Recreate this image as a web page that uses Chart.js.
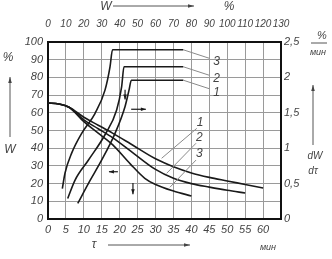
<!DOCTYPE html>
<html>
<head>
<meta charset="utf-8">
<script src="https://cdn.jsdelivr.net/npm/chart.js@4.4.1/dist/chart.umd.min.js"></script>
<style>
  html, body { margin: 0; padding: 0; background: #fff; }
  canvas { display: block; }
</style>
</head>
<body>
<canvas id="chart" width="332" height="259"></canvas>
<script>
// drying curves W(τ): τ in minutes, W in %
const dryTau1 = [0, 3, 6, 10, 14, 18, 23, 30, 35, 40, 45, 50, 55, 60];
const dryW1 = [65.5, 65, 63, 57.5, 53, 48.5, 42.5, 34, 29.5, 26, 23.5, 21.5, 19.5, 17.5];
const dryTau2 = [0, 3, 6, 10, 14, 18, 23, 30, 35, 40, 45, 50, 55];
const dryW2 = [65.5, 65, 63, 56, 51, 46, 38.5, 28, 23, 20, 18, 16.2, 14.7];
const dryTau3 = [0, 3, 6, 10, 14, 18, 23, 27, 30, 35, 40];
const dryW3 = [65.5, 65, 63, 55, 48.5, 42, 31, 23, 19.5, 15.8, 13];

// drying rate curves dW/dτ(W): W in %, rate in %/min
const rateW1 = [16.6, 22.5, 29.9, 37.4, 43, 45.2, 46.5, 75.5];
const rate1 = [0.22, 0.5, 0.83, 1.21, 1.59, 1.82, 1.96, 1.96];
const rateW2 = [11, 15.1, 22.5, 31.8, 38.3, 41.1, 42.4, 75.5];
const rate2 = [0.29, 0.55, 0.83, 1.19, 1.54, 1.87, 2.15, 2.15];
const rateW3 = [8, 9.5, 13.2, 18.8, 26.2, 31.8, 34.6, 36, 75.5];
const rate3 = [0.43, 0.65, 0.93, 1.21, 1.49, 1.82, 2.15, 2.39, 2.39];

const curveNames = ['1', '2', '3'];

// tick labels
const tauTicks = ['0', '5', '10', '15', '20', '25', '30', '35', '40', '45', '50', '55', '60'];
const wBottomTicks = ['0', '10', '20', '30', '40', '50', '60', '70', '80', '90', '100'];
const wTopTicks = ['0', '10', '20', '30', '40', '50', '60', '70', '80', '90', '100', '110', '120', '130'];
const rateTicks = ['0', '0,5', '1', '1,5', '2', '2,5'];

const FONT = '"Liberation Sans", Arial, sans-serif';
const INK = '#1a1a1a';
const TXT = '#444';

const pts = (xs, ys) => xs.map((x, i) => ({ x: x, y: ys[i] }));

const line = (data, xAxisID, yAxisID) => ({
    data: data,
    xAxisID: xAxisID,
    yAxisID: yAxisID,
    borderColor: INK,
    borderWidth: 1.6,
    pointRadius: 0,
    fill: false,
    cubicInterpolationMode: 'monotone',
});

function arrow(ctx, x1, y1, x2, y2, head) {
    const a = Math.atan2(y2 - y1, x2 - x1);
    ctx.beginPath();
    ctx.moveTo(x1, y1);
    ctx.lineTo(x2, y2);
    ctx.stroke();
    ctx.beginPath();
    ctx.moveTo(x2, y2);
    ctx.lineTo(x2 - head * Math.cos(a) + 1.8 * Math.sin(a), y2 - head * Math.sin(a) - 1.8 * Math.cos(a));
    ctx.lineTo(x2 - head * Math.cos(a) - 1.8 * Math.sin(a), y2 - head * Math.sin(a) + 1.8 * Math.cos(a));
    ctx.closePath();
    ctx.fill();
}

function text(ctx, s, x, y, size) {
    ctx.font = 'italic ' + (size || 12) + 'px ' + FONT;
    ctx.fillText(s, x, y);
}

const extras = {
    id: 'extras',
    afterDatasetsDraw(chart) {
        const { ctx, scales } = chart;
        const { x, y, x2, y2 } = scales;
        ctx.save();

        // leader lines and numbers for rate curves
        ctx.strokeStyle = '#8a8a8a';
        ctx.lineWidth = 1;
        ctx.fillStyle = TXT;
        ctx.textAlign = 'center';
        ctx.textBaseline = 'middle';
        const flats = [rate1[rate1.length - 1], rate2[rate2.length - 1], rate3[rate3.length - 1]];
        flats.forEach((r, i) => {
            const wEnd = [rateW1, rateW2, rateW3][i].slice(-1)[0];
            ctx.beginPath();
            ctx.moveTo(x2.getPixelForValue(wEnd), y2.getPixelForValue(r));
            ctx.lineTo(x2.getPixelForValue(90), y2.getPixelForValue(r - 0.12));
            ctx.stroke();
            text(ctx, curveNames[i], x2.getPixelForValue(94), y2.getPixelForValue(r - 0.17));
        });

        // leader lines and numbers for drying curves
        const leaders = [
            [31.7, 34.3, 41.5, 51.2],
            [33.1, 25.8, 41.3, 42.8],
            [34, 17.9, 41.3, 33.3],
        ];
        leaders.forEach((l, i) => {
            ctx.beginPath();
            ctx.moveTo(x.getPixelForValue(l[0]), y.getPixelForValue(l[1]));
            ctx.lineTo(x.getPixelForValue(l[2]), y.getPixelForValue(l[3]));
            ctx.stroke();
            text(ctx, curveNames[i], x.getPixelForValue(l[2] + 0.9), y.getPixelForValue(l[3] + 3.4));
        });

        // small direction arrows inside the plot
        ctx.strokeStyle = INK;
        ctx.fillStyle = INK;
        ctx.lineWidth = 1.2;
        arrow(ctx, x.getPixelForValue(21.5), y.getPixelForValue(73), x.getPixelForValue(21.5), y.getPixelForValue(67.5), 5);
        arrow(ctx, x.getPixelForValue(23.2), y.getPixelForValue(62), x.getPixelForValue(27.3), y.getPixelForValue(62), 5);
        arrow(ctx, x.getPixelForValue(19.5), y.getPixelForValue(26.7), x.getPixelForValue(17), y.getPixelForValue(26.7), 5);
        arrow(ctx, x.getPixelForValue(23.7), y.getPixelForValue(20.3), x.getPixelForValue(23.7), y.getPixelForValue(14), 5);

        // axis titles around the frame
        ctx.fillStyle = TXT;
        ctx.strokeStyle = '#555';
        ctx.lineWidth = 1;
        text(ctx, 'W', 106, 7);
        arrow(ctx, 113, 6, 194, 6, 6);
        text(ctx, '%', 229, 7);

        text(ctx, '%', 8, 58);
        arrow(ctx, 10, 137, 10, 77, 6);
        text(ctx, 'W', 10, 150);

        text(ctx, '%', 322, 36, 11);
        ctx.beginPath();
        ctx.moveTo(311, 43);
        ctx.lineTo(327, 43);
        ctx.stroke();
        text(ctx, 'мин', 318, 52, 9);
        arrow(ctx, 313, 145, 313, 85, 6);
        text(ctx, 'dW', 315, 156, 10);
        text(ctx, 'dτ', 313, 171, 10);

        text(ctx, 'τ', 94, 245);
        arrow(ctx, 108, 245, 190, 245, 6);
        text(ctx, 'мин', 268, 247, 9);

        ctx.restore();
    },
};

const tickFont = { family: FONT, size: 11, style: 'italic' };
const topFont = { family: FONT, size: 10, style: 'italic' };
const frame = { display: true, color: '#111', width: 2 };

new Chart(document.getElementById('chart'), {
    type: 'line',
    data: {
        datasets: [
            line(pts(dryTau1, dryW1), 'x', 'y'),
            line(pts(dryTau2, dryW2), 'x', 'y'),
            line(pts(dryTau3, dryW3), 'x', 'y'),
            line(pts(rateW1, rate1), 'x2', 'y2'),
            line(pts(rateW2, rate2), 'x2', 'y2'),
            line(pts(rateW3, rate3), 'x2', 'y2'),
        ],
    },
    options: {
        responsive: false,
        animation: false,
        devicePixelRatio: 1,
        layout: { padding: 0 },
        plugins: { legend: { display: false }, tooltip: { enabled: false } },
        scales: {
            x: {
                type: 'linear',
                position: 'bottom',
                min: 0,
                max: 65,
                afterFit: (s) => { s.height = 40; },
                grid: { color: '#9a9a9a', lineWidth: 1, drawTicks: false },
                border: frame,
                ticks: {
                    stepSize: 5,
                    padding: 4,
                    color: TXT,
                    font: tickFont,
                    maxRotation: 0,
                    autoSkip: false,
                    callback: (v) => tauTicks[v / 5] || '',
                },
            },
            x2: {
                type: 'linear',
                position: 'top',
                min: 0,
                max: 130,
                afterFit: (s) => { s.height = 42; },
                grid: { display: false, drawTicks: false },
                border: frame,
                ticks: {
                    stepSize: 10,
                    padding: 12,
                    color: TXT,
                    font: topFont,
                    maxRotation: 0,
                    autoSkip: false,
                    callback: (v) => wTopTicks[v / 10],
                },
            },
            y: {
                type: 'linear',
                position: 'left',
                min: 0,
                max: 100,
                afterFit: (s) => { s.width = 48; },
                grid: { color: '#9a9a9a', lineWidth: 1, drawTicks: false },
                border: frame,
                ticks: {
                    stepSize: 10,
                    padding: 5,
                    color: TXT,
                    font: tickFont,
                    autoSkip: false,
                    callback: (v) => wBottomTicks[v / 10],
                },
            },
            y2: {
                type: 'linear',
                position: 'right',
                min: 0,
                max: 2.5,
                afterFit: (s) => { s.width = 51; },
                grid: { display: false, drawTicks: false },
                border: frame,
                ticks: {
                    stepSize: 0.5,
                    padding: 3,
                    color: TXT,
                    font: tickFont,
                    autoSkip: false,
                    callback: (v) => rateTicks[Math.round(v * 2)],
                },
            },
        },
    },
    plugins: [extras],
});
</script>
</body>
</html>
